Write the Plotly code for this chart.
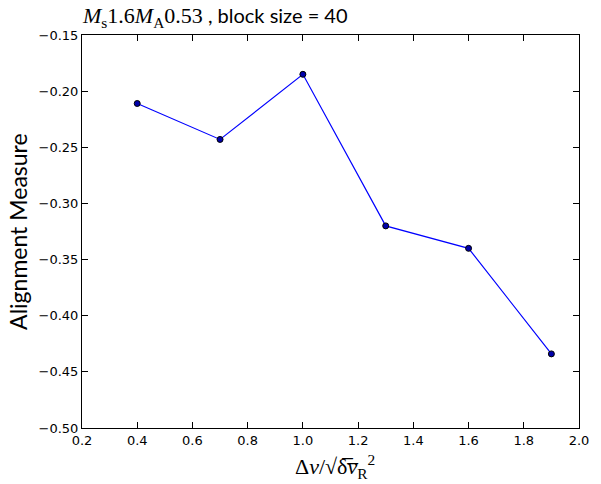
import plotly.graph_objects as go

x_vals = [0.4, 0.7, 1.0, 1.3, 1.6, 1.9]
y_vals = [-0.211, -0.243, -0.185, -0.320, -0.340, -0.434]
x_ticks = [0.2, 0.4, 0.6, 0.8, 1.0, 1.2, 1.4, 1.6, 1.8, 2.0]
y_ticks = [-0.50, -0.45, -0.40, -0.35, -0.30, -0.25, -0.20, -0.15]

fig = go.Figure()
fig.add_trace(go.Scatter(
    x=x_vals, y=y_vals, mode="lines+markers",
    line=dict(color="#0000ff", width=1.2),
    marker=dict(color="#0000aa", size=6, line=dict(color="black", width=1)),
    showlegend=False,
))

axis_common = dict(
    showline=True, linecolor="black", linewidth=1, mirror="ticks",
    ticks="inside", ticklen=6, tickwidth=1, tickcolor="black",
    showgrid=False, zeroline=False,
    tickfont=dict(family="DejaVu Sans", size=13, color="black"),
)

fig.update_layout(
    width=601, height=484,
    margin=dict(l=82, r=12, t=35, b=56),
    paper_bgcolor="white", plot_bgcolor="white",
    xaxis=dict(range=[0.2, 2.0], tickvals=x_ticks,
               ticktext=[f"{v:.1f}" for v in x_ticks], **axis_common),
    yaxis=dict(range=[-0.50, -0.15], tickvals=y_ticks,
               ticktext=[f"\u2212{abs(v):.2f}" for v in y_ticks], **axis_common),
)

fig.add_annotation(
    xref="paper", yref="paper", x=0.51, y=-0.097, xanchor="center", yanchor="middle",
    text="\u0394<i>v</i>/\u221a\u03b4\u0305<i>v\u0305</i><sub>R</sub><sup>2</sup>",
    showarrow=False, font=dict(family="Liberation Serif", size=22, color="black"),
)
fig.add_annotation(
    xref="paper", yref="paper", x=-0.13, y=0.5, xanchor="center", yanchor="middle",
    text="Alignment Measure", textangle=-90, showarrow=False,
    font=dict(family="Lato", size=23, color="black"),
)
fig.add_annotation(
    xref="paper", yref="paper", x=-0.005, y=1.005, xanchor="left", yanchor="bottom",
    text="<span style='font-family:Liberation Serif;font-size:22px'><i>M</i><sub>s</sub>1.6<i>M</i><sub>A</sub>0.53</span> , block size = 40",
    showarrow=False, font=dict(family="Lato", size=20, color="black"),
)

fig.write_html("out.html")
